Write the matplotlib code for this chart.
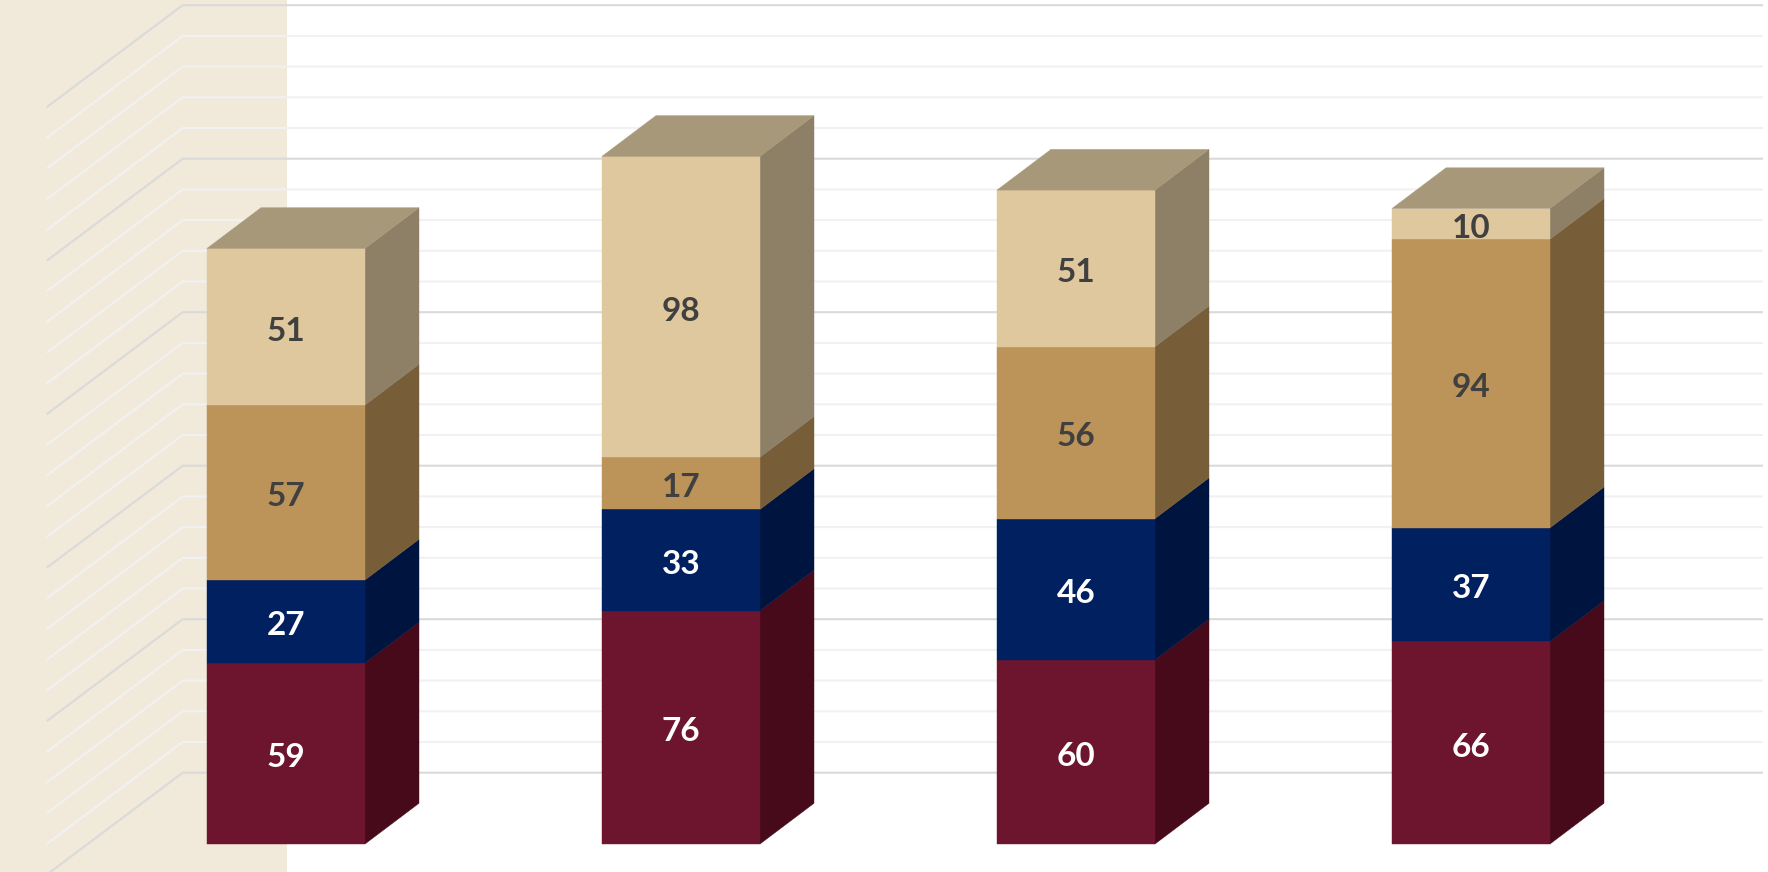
import matplotlib
matplotlib.use("Agg")
import matplotlib.pyplot as plt
from matplotlib.patches import Polygon

categories = [0, 1, 2, 3]
maroon = [59, 76, 60, 66]
navy = [27, 33, 46, 37]
gold = [57, 17, 56, 94]
tan = [51, 98, 51, 10]
series = [maroon, navy, gold, tan]

front_colors = ["#6D152F", "#002060", "#BC9358", "#DFC89E"]
side_colors = ["#470A1B", "#001440", "#785D39", "#8D8067"]
top_color = "#A8987A"
text_colors = ["white", "white", "#404040", "#404040"]

grid_levels = list(range(0, 260, 10))

PX_X = 395.0      # pixels per category
PX_Y = 3.07       # pixels per unit of value
X0_PX = 286.0     # pixel of the first category
Y0_PX = 844.0     # pixel of the zero on the front plane
W, H = 1768, 872

BAR_W = 158 / PX_X
DX, DY = 54 / PX_X, 40.7 / PX_Y             # bar depth
WALL_DX, WALL_DY = 136 / PX_X, 102 / PX_Y   # wall depth
WALL_BASE = (Y0_PX - 772.7) / PX_Y          # value of the lowest gridline on the wall

fig = plt.figure(figsize=(W / 100, H / 100), dpi=100, facecolor="white")
ax = fig.add_axes([0, 0, 1, 1])
ax.set_xlim(-X0_PX / PX_X, (W - X0_PX) / PX_X)
ax.set_ylim((Y0_PX - H) / PX_Y, Y0_PX / PX_Y)
ax.axis("off")

ax.axvspan(ax.get_xlim()[0], (287 - X0_PX) / PX_X, color="#F1E9DA", lw=0, zorder=0)

grid_left = (182.7 - X0_PX) / PX_X
grid_right = (1763 - X0_PX) / PX_X
for g in grid_levels:
    v = WALL_BASE + g
    major = g % 50 == 0
    c = "#DADADA" if major else "#F1F1F3"
    ax.plot([grid_left - WALL_DX, grid_left, grid_right], [v - WALL_DY, v, v],
            color=c, lw=1.5, zorder=1 if not major else 1.5, solid_joinstyle="miter",
            solid_capstyle="butt")

for i, cat in enumerate(categories):
    xl, xr = cat - BAR_W / 2, cat + BAR_W / 2
    base = 0
    for s, vals in enumerate(series):
        val = vals[i]
        top = base + val
        ax.add_patch(Polygon([(xr, base), (xr + DX, base + DY), (xr + DX, top + DY), (xr, top)],
                             closed=True, fc=side_colors[s], ec=side_colors[s], lw=0.3, zorder=3))
        ax.add_patch(Polygon([(xl, base), (xr, base), (xr, top), (xl, top)],
                             closed=True, fc=front_colors[s], ec=front_colors[s], lw=0.3, zorder=4))
        ax.text(cat, base + val / 2 - 0.6, str(val), ha="center", va="center_baseline",
                family="Lato", weight="bold", fontsize=24, color=text_colors[s], zorder=6)
        base = top
    ax.add_patch(Polygon([(xl, base), (xr, base), (xr + DX, base + DY), (xl + DX, base + DY)],
                         closed=True, fc=top_color, ec=top_color, lw=0.3, zorder=5))

fig.savefig("out.png", dpi=100, facecolor="white")
